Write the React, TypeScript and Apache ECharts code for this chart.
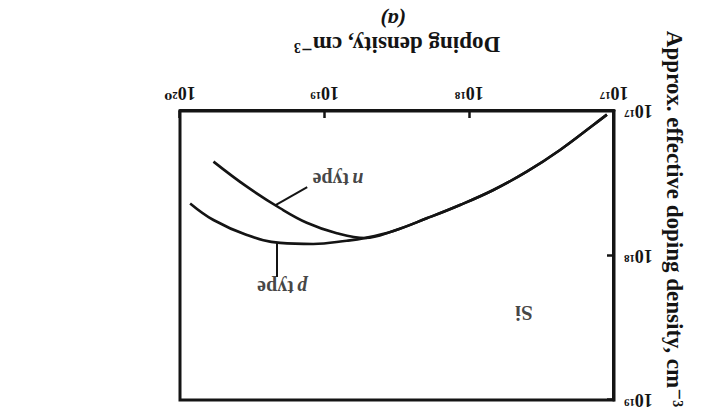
import React, { useEffect, useRef } from "react";
import * as echarts from "echarts";

// Doping density N (cm^-3) along the shared low-doping branch
const sharedDoping = [1.12e17, 1.39e17, 2.36e17, 4.01e17, 6.82e17, 1.16e18, 1.97e18, 3.35e18, 5.25e18];
const sharedEffective = [1.06e17, 1.25e17, 1.86e17, 2.63e17, 3.52e17, 4.47e17, 5.53e17, 6.76e17, 7.57e17];

// p-type branch beyond the split
const pDoping = [7.03e18, 1.2e19, 2.03e19, 3.45e19, 5.87e19, 8.51e19];
const pEffective = [7.91e17, 8.32e17, 8.18e17, 7.21e17, 5.68e17, 4.36e17];

// n-type branch beyond the split
const nDoping = [8.24e18, 1.33e19, 2.03e19, 3.45e19, 5.87e19];
const nEffective = [7.01e17, 5.93e17, 4.71e17, 3.34e17, 2.24e17];

// Axis ranges (decades)
const xRange = [1e17, 1e20];
const yRange = [1e17, 1e19];

// Annotations: label anchor and leader lines
const nLabelAt = [8.09e18, 3.01e17];
const nLeader = [[1.32e19, 3.36e17], [2.2e19, 4.5e17]];
const pLabelAt = [1.97e19, 1.68e18];
const pLeader = [[2.14e19, 1.41e18], [2.14e19, 8.2e17]];
const siLabelAt = [4.19e17, 2.5e18];

const SERIF = "'Liberation Serif', 'DejaVu Serif', serif";
const INK = "#141414";

const SUP: Record<string, string> = {
  "0": "\u2070", "1": "\u00b9", "2": "\u00b2", "3": "\u00b3", "4": "\u2074",
  "5": "\u2075", "6": "\u2076", "7": "\u2077", "8": "\u2078", "9": "\u2079", "-": "\u207b",
};
const decadeLabel = (v: number) =>
  "10" + String(Math.round(Math.log10(v))).split("").map((c) => SUP[c] ?? c).join("");

const pairs = (xs: number[], ys: number[]) => xs.map((x, i) => [x, ys[i]]);

export default function App() {
  const ref = useRef<HTMLDivElement>(null);

  useEffect(() => {
    if (!ref.current) return;
    const chart = echarts.init(ref.current, null, { renderer: "svg" });

    const curveStyle = { color: INK, width: 2.6 };
    const leaderStyle = { color: INK, width: 2, type: "solid" as const };

    const option: any = {
      animation: false,
      backgroundColor: "#ffffff",
      grid: {
        left: 88,
        right: 180,
        top: 9,
        bottom: 111,
        show: true,
        borderColor: INK,
        borderWidth: 3,
        backgroundColor: "transparent",
      },
      xAxis: {
        type: "log",
        logBase: 10,
        min: xRange[0],
        max: xRange[1],
        name: "Doping density, cm\u207b\u00b3",
        nameLocation: "middle",
        nameGap: 55,
        nameTextStyle: { fontFamily: SERIF, fontSize: 23, fontWeight: "bold", color: INK },
        axisLine: { show: true, lineStyle: { color: INK, width: 3 } },
        axisTick: { show: true, inside: true, length: 7, lineStyle: { color: INK, width: 2.5 } },
        minorTick: { show: false },
        splitLine: { show: false },
        axisLabel: {
          formatter: decadeLabel,
          margin: 9,
          fontFamily: SERIF,
          fontSize: 18,
          fontWeight: "bold",
          color: INK,
        },
      },
      yAxis: {
        type: "log",
        logBase: 10,
        min: yRange[0],
        max: yRange[1],
        axisLine: { show: true, lineStyle: { color: INK, width: 3 } },
        axisTick: { show: true, inside: true, length: 7, lineStyle: { color: INK, width: 2.5 } },
        minorTick: { show: false },
        splitLine: { show: false },
        axisLabel: {
          formatter: decadeLabel,
          margin: 10,
          fontFamily: SERIF,
          fontSize: 18,
          fontWeight: "bold",
          color: INK,
        },
      },
      series: [
        {
          name: "p type",
          type: "line",
          data: pairs([...sharedDoping, ...pDoping], [...sharedEffective, ...pEffective]),
          smooth: 0.4,
          showSymbol: false,
          lineStyle: curveStyle,
          markLine: {
            silent: true,
            symbol: "none",
            label: { show: false },
            lineStyle: leaderStyle,
            data: [[{ coord: pLeader[0] }, { coord: pLeader[1] }]],
          },
        },
        {
          name: "n type",
          type: "line",
          data: pairs([...sharedDoping, ...nDoping], [...sharedEffective, ...nEffective]),
          smooth: 0.4,
          showSymbol: false,
          lineStyle: curveStyle,
          markLine: {
            silent: true,
            symbol: "none",
            label: { show: false },
            lineStyle: leaderStyle,
            data: [[{ coord: nLeader[0] }, { coord: nLeader[1] }]],
          },
        },
        {
          name: "labels",
          type: "scatter",
          symbolSize: 1,
          itemStyle: { color: "rgba(0,0,0,0)" },
          silent: true,
          label: {
            show: true,
            position: "inside",
            formatter: (p: any) => p.data.text,
            color: INK,
            fontFamily: SERIF,
            rich: {
              it: { fontFamily: SERIF, fontSize: 20, fontWeight: "bold", fontStyle: "italic", color: INK },
              rm: { fontFamily: SERIF, fontSize: 20, fontWeight: "bold", color: INK },
              big: { fontFamily: SERIF, fontSize: 21, fontWeight: "bold", color: INK },
            },
          },
          data: [
            { value: nLabelAt, text: "{it|n} {rm|type}" },
            { value: pLabelAt, text: "{it|p} {rm|type}" },
            { value: siLabelAt, text: "{big|Si}" },
          ],
        },
      ],
      graphic: [
        {
          type: "text",
          x: 28,
          y: 190,
          rotation: Math.PI / 2,
          style: {
            text: "Approx. effective doping density, cm\u207b\u00b3",
            fontFamily: SERIF,
            fontSize: 23,
            fontWeight: "bold",
            fill: INK,
            align: "center",
            verticalAlign: "middle",
          },
        },
        {
          type: "text",
          x: 309,
          y: 389,
          style: {
            text: "(a)",
            fontFamily: SERIF,
            fontSize: 22,
            fontWeight: "bold",
            fontStyle: "italic",
            fill: INK,
            align: "center",
            verticalAlign: "middle",
          },
        },
      ],
    };

    chart.setOption(option);
    return () => chart.dispose();
  }, []);

  return (
    <div
      ref={ref}
      style={{
        position: "absolute",
        left: 0,
        top: 0,
        width: 702,
        height: 409,
        background: "#ffffff",
        transform: "rotate(180deg)",
      }}
    />
  );
}
